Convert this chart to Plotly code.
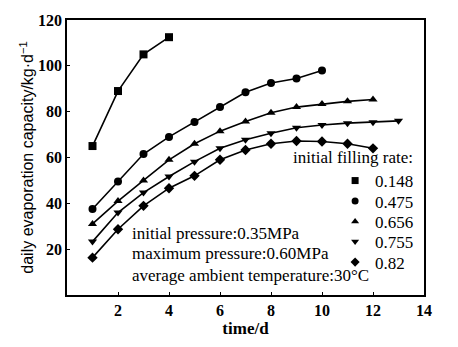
import plotly.graph_objects as go

days_148 = [1, 2, 3, 4]
vals_148 = [65, 89, 105, 112.5]
days_475 = [1, 2, 3, 4, 5, 6, 7, 8, 9, 10]
vals_475 = [37.5, 49.5, 61.5, 69, 75.5, 82, 88.5, 92.5, 94.5, 98]
days_656 = [1, 2, 3, 4, 5, 6, 7, 8, 9, 10, 11, 12]
vals_656 = [31, 41, 50, 59, 66, 71.5, 75.7, 79.5, 82, 83.3, 84.5, 85.3]
days_755 = [1, 2, 3, 4, 5, 6, 7, 8, 9, 10, 11, 12, 13]
vals_755 = [23.3, 36, 44.7, 51.7, 58.2, 64, 67.7, 70.6, 73, 74.2, 75, 75.4, 76]
days_82 = [1, 2, 3, 4, 5, 6, 7, 8, 9, 10, 11, 12]
vals_82 = [16.3, 28.7, 38.9, 46.6, 52, 59, 63.3, 66, 67.2, 67, 66, 64]

series = [
    ("0.148", days_148, vals_148, "square"),
    ("0.475", days_475, vals_475, "circle"),
    ("0.656", days_656, vals_656, "triangle-up"),
    ("0.755", days_755, vals_755, "triangle-down"),
    ("0.82", days_82, vals_82, "diamond"),
]

x_ticks = [2, 4, 6, 8, 10, 12, 14]
y_ticks = [20, 40, 60, 80, 100, 120]

serif = "Liberation Serif"
legend_names = ["legend", "legend2", "legend3", "legend4", "legend5"]
legend_y = [0.4145, 0.340, 0.2655, 0.193, 0.118]

fig = go.Figure()
for name, xs, ys, sym in series:
    fig.add_trace(go.Scatter(x=xs, y=ys, mode="lines+markers", showlegend=False,
                             line=dict(color="black", width=1.6),
                             marker=dict(symbol=sym, size=8, color="black")))
for (name, xs, ys, sym), lg in zip(series, legend_names):
    fig.add_trace(go.Scatter(x=[None], y=[None], mode="markers", name=name, legend=lg,
                             marker=dict(symbol=sym, size=7, color="black")))

def txt(x, y, s, anchor="left", size=17):
    return dict(x=x, y=y, xref="x", yref="y", text=s, showarrow=False,
                xanchor=anchor, align=anchor if anchor != "center" else "center",
                font=dict(family=serif, size=size, color="black"))

ann = [
    txt(-0.4, -7, "<b>0</b>", "center", 16),
    txt(13.65, 59.8, "initial filling rate:", "right"),
    txt(2.47, 27, "initial pressure:0.35MPa"),
    txt(2.47, 17.9, "maximum pressure:0.60MPa"),
    txt(2.47, 8.7, "average ambient temperature:30°C"),
]

layout_legends = {}
for lg, ly in zip(legend_names, legend_y):
    layout_legends[lg] = dict(x=0.751, y=ly, xanchor="left", yanchor="middle",
                              bgcolor="rgba(0,0,0,0)",
                              font=dict(family=serif, size=17, color="black"),
                              itemwidth=30, tracegroupgap=0)

fig.update_layout(
    width=458, height=347,
    margin=dict(l=67, r=34, t=20, b=52),
    plot_bgcolor="white", paper_bgcolor="white",
    annotations=ann,
    xaxis=dict(range=[0, 14], tickvals=x_ticks, ticktext=[f"<b>{v}</b>" for v in x_ticks],
               showline=True, linecolor="black", linewidth=1.5, mirror=True,
               ticks="inside", ticklen=3, tickcolor="black", showgrid=False, zeroline=False,
               tickfont=dict(family=serif, size=16, color="black"),
               title=dict(text="<b>time/d</b>", font=dict(family=serif, size=17, color="black"), standoff=2)),
    yaxis=dict(range=[0, 120], tickvals=y_ticks, ticktext=[f"<b>{v}</b>" for v in y_ticks],
               showline=True, linecolor="black", linewidth=1.5, mirror=True,
               ticks="inside", ticklen=3, tickcolor="black", showgrid=False, zeroline=False,
               tickfont=dict(family=serif, size=16, color="black"),
               title=dict(text="daily evaporation capacity/kg·d<sup>−1</sup>",
                          font=dict(family="Liberation Sans", size=16, color="black"), standoff=0)),
    **layout_legends,
)
fig.write_html("out.html")
